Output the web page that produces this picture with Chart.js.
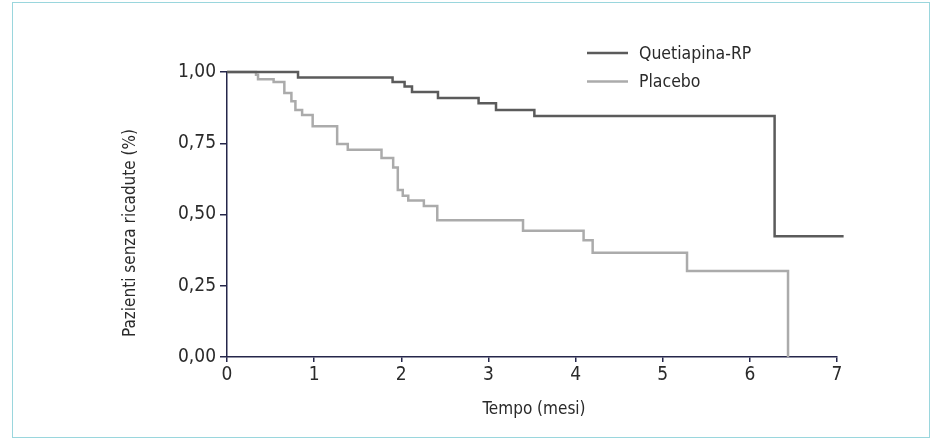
<!DOCTYPE html>
<html>
<head>
<meta charset="utf-8">
<script src="https://cdn.jsdelivr.net/npm/chart.js@4"></script>
<style>
  body { margin: 0; background: #fff; }
  #wrap { position: relative; width: 944px; height: 442px; }
  #frame { position: absolute; left: 12px; top: 2px; width: 918px; height: 436px; border: 1px solid #9ad6dd; box-sizing: border-box; }
  canvas { position: absolute; left: 0; top: 0; }
</style>
</head>
<body>
<div id="wrap">
  <div id="frame"></div>
  <canvas id="kmChart" width="944" height="442"></canvas>
</div>
<script>
// ----------- Data --------- //
const seriesNames = ["Quetiapina-RP", "Placebo"];

const quetiapinaTimes = [0, 0.815, 1.900, 2.038, 2.123, 2.421, 2.887, 3.087, 3.527, 6.284, 7.076];
const quetiapinaSurv = [1.0, 0.981, 0.965, 0.949, 0.930, 0.909, 0.890, 0.867, 0.846, 0.424, 0.424];

const placeboTimes = [0, 0.333, 0.356, 0.535, 0.658, 0.739, 0.785, 0.862, 0.983, 1.264, 1.386,
  1.773, 1.907, 1.960, 2.017, 2.080, 2.259, 2.413, 3.397, 4.092, 4.196, 5.279, 6.438];
const placeboSurv = [1.0, 0.990, 0.975, 0.965, 0.926, 0.897, 0.867, 0.849, 0.810, 0.747, 0.727,
  0.698, 0.665, 0.586, 0.566, 0.549, 0.530, 0.480, 0.443, 0.410, 0.366, 0.302, 0];

const xTicks = [0, 1, 2, 3, 4, 5, 6, 7];
const xTickLabels = ["0", "1", "2", "3", "4", "5", "6", "7"];
const yTicks = [0, 0.25, 0.5, 0.75, 1];
const yTickLabels = ["0,00", "0,25", "0,50", "0,75", "1,00"];

const xTitle = "Tempo (mesi)";
const yTitle = "Pazienti senza ricadute (%)";

const toPoints = (xs, ys) => xs.map((x, i) => ({ x: x, y: ys[i] }));

const FONT = '"DejaVu Sans Condensed", "Liberation Sans Narrow", sans-serif';
const AXIS_COLOR = "#25264a";
const TEXT_COLOR = "#2a2a2a";

// titles + legend drawn at fixed spots like the original figure
const extrasPlugin = {
  id: "extras",
  afterDraw(chart) {
    const ctx = chart.ctx;
    ctx.save();
    ctx.fillStyle = TEXT_COLOR;
    ctx.textBaseline = "middle";

    // y title
    ctx.font = "17px " + FONT;
    ctx.save();
    ctx.translate(131, 233);
    ctx.rotate(-Math.PI / 2);
    ctx.textAlign = "center";
    ctx.fillText(yTitle, 0, 0);
    ctx.restore();

    // x title
    ctx.textAlign = "center";
    ctx.fillText(xTitle, 534, 410);

    // legend
    ctx.font = "17.5px " + FONT;
    ctx.textAlign = "left";
    chart.data.datasets.forEach((ds, i) => {
      const y = 53 + i * 28.5;
      ctx.strokeStyle = ds.borderColor;
      ctx.lineWidth = ds.borderWidth;
      ctx.beginPath();
      ctx.moveTo(587, y);
      ctx.lineTo(628, y);
      ctx.stroke();
      ctx.fillText(ds.label, 639, y + 1);
    });
    ctx.restore();
  },
};

new Chart(document.getElementById("kmChart"), {
  type: "line",
  data: {
    datasets: [
      {
        label: seriesNames[0],
        data: toPoints(quetiapinaTimes, quetiapinaSurv),
        borderColor: "#5b5b5b",
        borderWidth: 2.5,
        stepped: true,
        pointRadius: 0,
        fill: false,
        clip: false,
      },
      {
        label: seriesNames[1],
        data: toPoints(placeboTimes, placeboSurv),
        borderColor: "#ababab",
        borderWidth: 2.5,
        stepped: true,
        pointRadius: 0,
        fill: false,
        clip: false,
      },
    ],
  },
  options: {
    responsive: false,
    devicePixelRatio: 1,
    animation: false,
    layout: { padding: { top: 72, right: 107, left: 0, bottom: 0 } },
    plugins: { legend: { display: false }, tooltip: { enabled: false } },
    scales: {
      x: {
        type: "linear",
        min: 0,
        max: 7,
        afterBuildTicks: (s) => { s.ticks = xTicks.map((v) => ({ value: v })); },
        afterFit: (s) => { s.height = 85; },
        ticks: {
          autoSkip: false,
          maxRotation: 0,
          padding: 2,
          color: TEXT_COLOR,
          font: { family: FONT, size: 19 },
          callback: (v, i) => xTickLabels[i],
        },
        grid: { drawOnChartArea: false, drawTicks: true, tickLength: 5, color: AXIS_COLOR, lineWidth: 1.5 },
        border: { display: true, color: AXIS_COLOR, width: 1.5 },
      },
      y: {
        type: "linear",
        min: 0,
        max: 1,
        afterBuildTicks: (s) => { s.ticks = yTicks.map((v) => ({ value: v })); },
        afterFit: (s) => { s.width = 227; },
        ticks: {
          autoSkip: false,
          padding: 4,
          color: TEXT_COLOR,
          font: { family: FONT, size: 19 },
          callback: (v, i) => yTickLabels[i],
        },
        grid: { drawOnChartArea: false, drawTicks: true, tickLength: 7, color: AXIS_COLOR, lineWidth: 1.5 },
        border: { display: true, color: AXIS_COLOR, width: 1.5 },
      },
    },
  },
  plugins: [extrasPlugin],
});
</script>
</body>
</html>
